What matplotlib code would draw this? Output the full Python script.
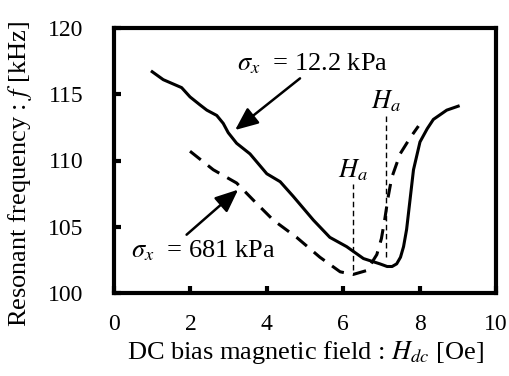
import matplotlib
matplotlib.use('Agg')
from matplotlib import pyplot as plt

plt.rcParams['font.family'] = ['Liberation Serif', 'DejaVu Serif']
plt.rcParams['mathtext.fontset'] = 'stix'

# sigma_x = 12.2 kPa (solid)
h_low = [1.0, 1.29, 1.77, 1.99, 2.25, 2.43, 2.69, 2.86, 2.99, 3.21, 3.56, 4.0, 4.35,
         4.69, 5.22, 5.65, 6.09, 6.53, 6.96, 7.15, 7.28, 7.40, 7.50, 7.58, 7.66,
         7.74, 7.84, 8.01, 8.20, 8.36, 8.71, 9.01]
f_low = [116.7, 116.1, 115.5, 114.8, 114.2, 113.8, 113.4, 112.8, 112.1, 111.3, 110.5,
         109.0, 108.4, 107.3, 105.5, 104.2, 103.5, 102.6, 102.2, 102.0, 102.0, 102.2,
         102.7, 103.5, 104.8, 106.8, 109.3, 111.4, 112.4, 113.1, 113.8, 114.1]

# sigma_x = 681 kPa (dashed)
h_high = [1.99, 2.60, 3.21, 3.65, 4.17, 4.78, 5.39, 5.92, 6.26, 6.62, 6.88, 7.00,
          7.09, 7.18, 7.27, 7.49, 7.75, 7.97]
f_high = [110.7, 109.3, 108.3, 107.0, 105.5, 104.2, 102.7, 101.6, 101.4, 101.7,
          102.9, 104.1, 105.6, 107.3, 108.7, 110.5, 111.7, 112.6]

# anisotropy field markers
ha_x = [6.25, 7.12]
ha_top = [108.2, 113.4]
ha_bot = [101.7, 102.7]

fig = plt.figure(figsize=(5.09, 3.76), dpi=100)
ax = fig.add_axes([114 / 509, 1 - 293 / 376, 382 / 509, 265 / 376])

ax.plot(h_low, f_low, 'k-', lw=2.2)
ax.plot(h_high, f_high, 'k--', lw=2.2, dashes=(4.5, 3))
for x, y0, y1 in zip(ha_x, ha_bot, ha_top):
    ax.plot([x, x], [y0, y1], 'k--', lw=1, dashes=(4, 2.5))
    ax.text(x, y1 + 0.1, r'$H_a$', ha='center', va='bottom', fontsize=19)

arrow = dict(arrowstyle='-|>,head_length=0.7,head_width=0.3', color='k', lw=1.8,
             mutation_scale=20, shrinkA=0, shrinkB=0)
ax.text(5.2, 117.3, r'$\sigma_x$  = 12.2 kPa', fontsize=19, ha='center', va='center')
ax.annotate('', xy=(3.17, 112.3), xytext=(4.87, 116.2), arrowprops=arrow)
ax.text(2.34, 103.2, r'$\sigma_x$  = 681 kPa', fontsize=19, ha='center', va='center')
ax.annotate('', xy=(3.25, 107.8), xytext=(1.9, 104.4), arrowprops=arrow)

ax.set_xlim(0, 10)
ax.set_ylim(100, 120)
ax.set_xticks([0, 2, 4, 6, 8, 10])
ax.set_yticks([100, 105, 110, 115, 120])
ax.tick_params(direction='in', length=5, width=3, labelsize=17, top=False, right=False)
ax.tick_params(axis='y', pad=22)
ax.tick_params(axis='x', pad=15)
for s in ax.spines.values():
    s.set_linewidth(3)

ax.set_xlabel(r'DC bias magnetic field : $H_{dc}$ [Oe]', fontsize=19, labelpad=3)
ax.set_ylabel(r'Resonant frequency : $f$ [kHz]', fontsize=19)
ax.yaxis.set_label_coords(-0.21, 0.45)

fig.savefig('out.png', dpi=100)
